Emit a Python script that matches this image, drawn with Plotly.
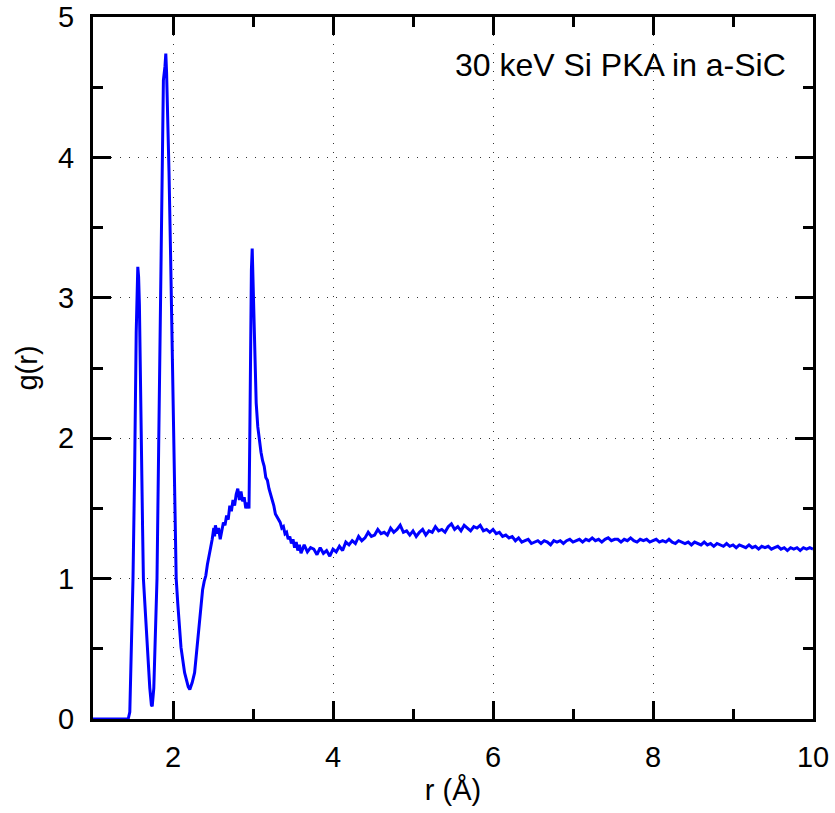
import plotly.graph_objects as go

r_vals = [
    1.00, 1.44, 1.46, 1.48, 1.50, 1.52, 1.54, 1.56, 1.57, 1.58, 1.60, 1.62, 1.63, 1.65, 1.67, 1.69, 1.71, 1.73, 1.74,
    1.76, 1.78, 1.80, 1.82, 1.84, 1.86, 1.88, 1.90, 1.91, 1.92, 1.94, 1.95, 1.97, 1.99, 2.01, 2.02, 2.04, 2.06, 2.08,
    2.10, 2.145, 2.19, 2.21, 2.24, 2.27, 2.31, 2.35,
    2.37, 2.39, 2.41, 2.43, 2.45, 2.47, 2.49, 2.51, 2.52, 2.53, 2.55, 2.57, 2.59, 2.61, 2.63, 2.65, 2.67, 2.69,
    2.71, 2.73, 2.75, 2.77, 2.79, 2.81, 2.83, 2.85, 2.87, 2.89, 2.91, 2.93, 2.95, 2.96, 2.97, 2.98, 2.99,
    3.00, 3.01, 3.02, 3.03, 3.04, 3.06, 3.08, 3.10, 3.12, 3.14, 3.16, 3.18, 3.20, 3.22, 3.24, 3.26, 3.28, 3.30,
    3.32, 3.34, 3.36, 3.38, 3.40, 3.42, 3.44, 3.46, 3.48, 3.50, 3.52, 3.54, 3.56, 3.58, 3.60,
    3.64, 3.68, 3.72, 3.76, 3.80, 3.84, 3.88, 3.92, 3.96, 4.00,
    4.04, 4.08, 4.12, 4.16, 4.20, 4.24, 4.28, 4.32, 4.36, 4.40,
    4.44, 4.48, 4.52, 4.56, 4.60, 4.64, 4.68, 4.72, 4.76, 4.80,
    4.84, 4.88, 4.92, 4.96, 5.00, 5.04, 5.08, 5.12, 5.16, 5.20,
    5.24, 5.28, 5.32, 5.36, 5.40, 5.44, 5.48, 5.52, 5.56, 5.60,
    5.64, 5.68, 5.72, 5.76, 5.80, 5.84, 5.88, 5.92, 5.96, 6.00,
    6.04, 6.08, 6.12, 6.16, 6.20, 6.24, 6.28, 6.32, 6.36, 6.40,
    6.44, 6.48, 6.52, 6.56, 6.60, 6.64, 6.68, 6.72, 6.76, 6.80,
    6.84, 6.88, 6.92, 6.96, 7.00, 7.04, 7.08, 7.12, 7.16, 7.20,
    7.24, 7.28, 7.32, 7.36, 7.40, 7.44, 7.48, 7.52, 7.56, 7.60,
    7.64, 7.68, 7.72, 7.76, 7.80, 7.84, 7.88, 7.92, 7.96, 8.00,
    8.04, 8.08, 8.12, 8.16, 8.20, 8.24, 8.28, 8.32, 8.36, 8.40,
    8.44, 8.48, 8.52, 8.56, 8.60, 8.64, 8.68, 8.72, 8.76, 8.80,
    8.84, 8.88, 8.92, 8.96, 9.00, 9.04, 9.08, 9.12, 9.16, 9.20,
    9.24, 9.28, 9.32, 9.36, 9.40, 9.44, 9.48, 9.52, 9.56, 9.60,
    9.64, 9.68, 9.72, 9.76, 9.80, 9.84, 9.88, 9.92, 9.96, 10.00,
]

g_vals = [
    0.00, 0.00, 0.05, 0.45, 1.00, 1.75, 2.75, 3.22, 3.15, 2.95, 2.30, 1.35, 1.00, 0.80, 0.60, 0.40, 0.22, 0.10, 0.09,
    0.22, 0.60, 1.00, 1.90, 2.80, 3.50, 4.55, 4.65, 4.74, 4.60, 4.24, 3.90, 3.30, 2.70, 2.00, 1.61, 1.00, 0.82, 0.68,
    0.51, 0.33, 0.23, 0.21, 0.26, 0.33, 0.56, 0.83,
    0.92, 0.98, 1.02, 1.10, 1.15, 1.22, 1.28, 1.36, 1.30, 1.38, 1.32, 1.36, 1.28, 1.34, 1.40, 1.38, 1.45, 1.42,
    1.52, 1.48, 1.56, 1.52, 1.60, 1.64, 1.56, 1.62, 1.55, 1.58, 1.50, 1.54, 1.50, 2.00, 2.80, 3.20, 3.35,
    3.10, 2.90, 2.70, 2.45, 2.25, 2.08, 1.98, 1.90, 1.84, 1.80, 1.72, 1.70, 1.64, 1.60, 1.55, 1.52, 1.46, 1.44,
    1.41, 1.40, 1.36, 1.37, 1.32, 1.33, 1.28, 1.30, 1.25, 1.28, 1.22, 1.26, 1.20, 1.24, 1.18,
    1.24, 1.19, 1.22, 1.21, 1.17, 1.22, 1.18, 1.20, 1.16, 1.21,
    1.19, 1.23, 1.20, 1.26, 1.24, 1.27, 1.25, 1.30, 1.27, 1.29,
    1.33, 1.30, 1.31, 1.35, 1.32, 1.33, 1.31, 1.36, 1.33, 1.35,
    1.38, 1.33, 1.34, 1.31, 1.34, 1.30, 1.33, 1.35, 1.31, 1.34,
    1.33, 1.37, 1.34, 1.35, 1.33, 1.37, 1.39, 1.35, 1.37, 1.34,
    1.38, 1.36, 1.34, 1.37, 1.36, 1.38, 1.34, 1.35, 1.33, 1.35,
    1.32, 1.33, 1.30, 1.31, 1.29, 1.30, 1.27, 1.29, 1.26, 1.27,
    1.28, 1.25, 1.26, 1.27, 1.25, 1.27, 1.26, 1.24, 1.27, 1.26,
    1.27, 1.25, 1.27, 1.28, 1.26, 1.27, 1.28, 1.26, 1.28, 1.27,
    1.29, 1.27, 1.28, 1.26, 1.28, 1.29, 1.27, 1.28, 1.28, 1.26,
    1.28, 1.27, 1.29, 1.27, 1.26, 1.28, 1.27, 1.28, 1.26, 1.27,
    1.28, 1.26, 1.27, 1.26, 1.28, 1.26, 1.25, 1.27, 1.26, 1.25,
    1.26, 1.24, 1.26, 1.25, 1.24, 1.26, 1.24, 1.25, 1.23, 1.25,
    1.24, 1.23, 1.25, 1.23, 1.24, 1.22, 1.24, 1.23, 1.22, 1.24,
    1.22, 1.23, 1.21, 1.23, 1.22, 1.23, 1.21, 1.22, 1.23, 1.21,
    1.22, 1.20, 1.22, 1.21, 1.22, 1.20, 1.22, 1.21, 1.22, 1.21,
]

x_tick_vals = [2, 4, 6, 8, 10]
y_tick_vals = [0, 1, 2, 3, 4, 5]
label_text = "30 keV Si PKA in a-SiC"

FONT = "Liberation Sans, Arial, Helvetica, sans-serif"

fig = go.Figure()
fig.add_trace(go.Scatter(
    x=r_vals, y=g_vals, mode="lines",
    line=dict(color="#0000ff", width=3),
    showlegend=False, hoverinfo="skip",
))

axis_common = dict(
    showline=True, linecolor="black", linewidth=3, mirror="ticks",
    ticks="inside", ticklen=18, tickwidth=3, tickcolor="black",
    showgrid=True, gridcolor="#333333", gridwidth=1, griddash="1px,8px",
    zeroline=False, automargin=False,
    tickfont=dict(family=FONT, size=29, color="black"),
    ticklabelstandoff=10, ticklabeloverflow="allow",
)

fig.update_xaxes(
    range=[1, 10], tickmode="array", tickvals=x_tick_vals,
    minor=dict(ticks="inside", ticklen=10, tickwidth=3, tickcolor="black", dtick=1, tick0=0, showgrid=False),
    title=dict(text="r (Å)", font=dict(family=FONT, size=29, color="black"), standoff=8),
    **axis_common,
)
fig.update_yaxes(
    range=[0, 5], tickmode="array", tickvals=y_tick_vals,
    minor=dict(ticks="inside", ticklen=10, tickwidth=3, tickcolor="black", dtick=0.5, tick0=0, showgrid=False),
    title=dict(text="g(r)", font=dict(family=FONT, size=29, color="black"), standoff=12),
    **axis_common,
)

fig.add_annotation(
    text=label_text, xref="paper", yref="paper", x=0.965, y=0.932,
    xanchor="right", yanchor="middle", showarrow=False,
    font=dict(family=FONT, size=32, color="black"),
)

fig.update_layout(
    width=835, height=813,
    margin=dict(l=93, r=22, t=17, b=94),
    plot_bgcolor="white", paper_bgcolor="white",
    font=dict(family=FONT, color="black"),
)

# remove the browser's default 8px body margin so the figure fills the window
fig.write_html(
    "out.html",
    config={"displayModeBar": False},
    post_script="document.body.style.margin='0px';",
)
